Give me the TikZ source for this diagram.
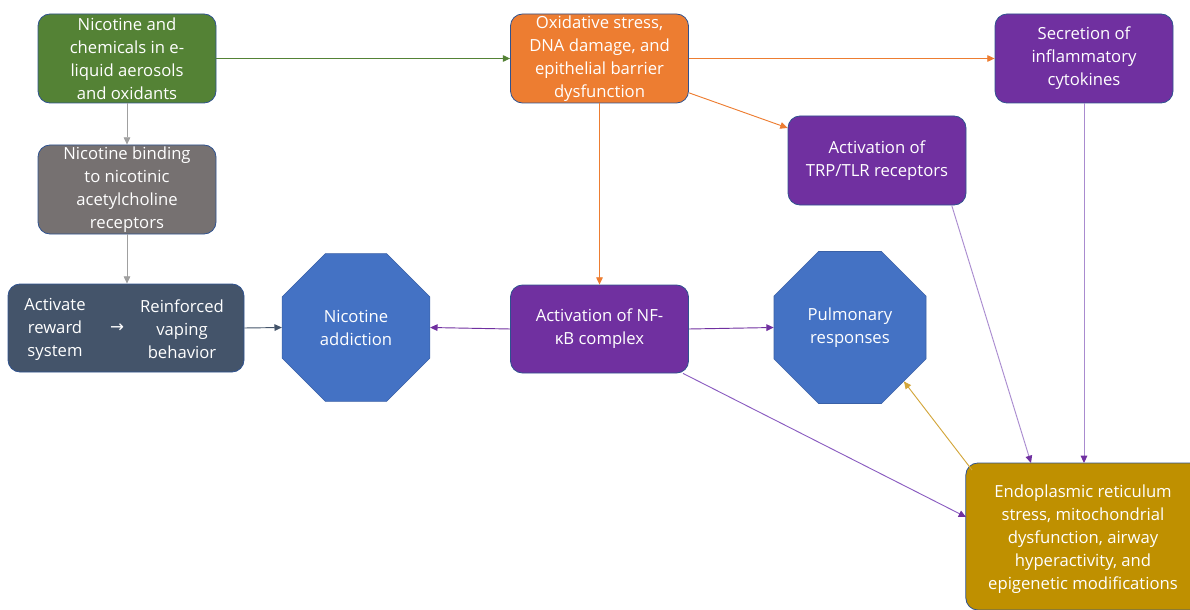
\documentclass[tikz,border=0pt]{standalone}
\usepackage{fontspec}
\setmainfont{Open Sans}
\newfontfamily\arrowfont{DejaVu Sans}
\usetikzlibrary{shapes.geometric,arrows.meta}
\definecolor{cgreen}{HTML}{548235}
\definecolor{cgray}{HTML}{767171}
\definecolor{cdark}{HTML}{44546A}
\definecolor{cblue}{HTML}{4472C4}
\definecolor{corange}{HTML}{ED7D31}
\definecolor{cpurple}{HTML}{7030A0}
\definecolor{cgold}{HTML}{BF9000}
\definecolor{boxline}{HTML}{2F528F}
\definecolor{lgray}{HTML}{A0A0A0}
\definecolor{lpurple}{HTML}{A98BCF}
\definecolor{mpurple}{HTML}{8A5CC0}
\definecolor{lgold}{HTML}{D3A63A}
\begin{document}
\begin{tikzpicture}[x=0.75pt,y=-0.75pt,
  txt/.style={text=white, align=center, inner sep=0pt, font=\fontsize{12.5}{17.25}\selectfont},
  box/.style={txt, draw=boxline, line width=0.6pt, rounded corners=9pt,
    minimum width=133.5pt, minimum height=66.75pt},
  oct/.style={txt, regular polygon, regular polygon sides=8, fill=cblue, draw=cblue!85!black, line width=0.4pt},
  tip/.style={-{Triangle[length=5.5pt,width=5pt]}, line width=0.7pt},
  ]
\useasboundingbox (0,0) rectangle (1190,610);

% boxes
\node[box, fill=cgreen] (green) at (127,58.5) {Nicotine and\\chemicals in e-\\liquid aerosols\\and oxidants};
\node[box, fill=cgray] (gray) at (127,189.5) {Nicotine binding\\to nicotinic\\acetylcholine\\receptors};
\node[box, fill=cdark, minimum width=177pt, minimum height=66pt] (dark) at (126,328) {};
\node[txt] (act) at (55,329) {Activate\\reward\\system};
\node[txt] (rarr) at (117,328) {\arrowfont →};
\node[txt] (reinf) at (182,329) {Reinforced\\vaping\\behavior};
\node[oct, minimum size=120pt] (nic) at (356,327.5) {Nicotine\\addiction};
\node[box, fill=corange] (orange) at (599.5,58.5) {Oxidative stress,\\DNA damage, and\\epithelial barrier\\dysfunction};
\node[box, fill=cpurple, minimum height=66pt] (nf) at (599.5,329) {Activation of NF-\\κB complex};
\node[oct, minimum size=123.4pt] (pulm) at (850,327.5) {Pulmonary\\responses};
\node[box, fill=cpurple] (trp) at (877,160.5) {Activation of\\TRP/TLR receptors};
\node[box, fill=cpurple] (sec) at (1084,58.5) {Secretion of\\inflammatory\\cytokines};
\node[box, fill=cgold, minimum width=190pt, minimum height=110.25pt] (er) at (1092.5,536.5) {};
\node[txt] (ertext) at (1083,539) {Endoplasmic reticulum\\stress, mitochondrial\\dysfunction, airway\\hyperactivity, and\\epigenetic modifications};
\coordinate (erpt) at (972,470);
\coordinate (ertop1) at (1031,463);
\coordinate (ertop2) at (1084,463);
\coordinate (erleft) at (966,517);

% connectors
\draw[tip, draw=cgreen] (green.east) -- (orange.west);
\draw[tip, draw=lgray] (green.south) -- (gray.north);
\draw[tip, draw=lgray] (gray.south) -- (gray.south |- dark.north);
\draw[tip, draw=cdark] (dark.east) -- (nic.west);
\draw[tip, draw=cpurple] (nf.west) -- (nic.east);
\draw[tip, draw=cpurple] (nf.east) -- (pulm.west);
\draw[tip, draw=corange] (orange.south) -- (nf.north);
\draw[tip, draw=corange] (orange.east) -- (sec.west);
\draw[tip, draw=corange] (orange.-21.6) -- (trp.160.5);
\draw[line width=0.7pt, draw=lpurple, -{Triangle[length=5.5pt,width=5pt,color=cpurple]}] (trp.-31.4) -- (ertop1);
\draw[line width=0.7pt, draw=lpurple, -{Triangle[length=5.5pt,width=5pt,color=cpurple]}] (sec.south) -- (ertop2);
\draw[line width=0.7pt, draw=mpurple, -{Triangle[length=5.5pt,width=5pt,color=cpurple]}] (nf.-28.7) -- (erleft);
\draw[tip, draw=lgold] (erpt) -- (pulm.-45);
\end{tikzpicture}
\end{document}
